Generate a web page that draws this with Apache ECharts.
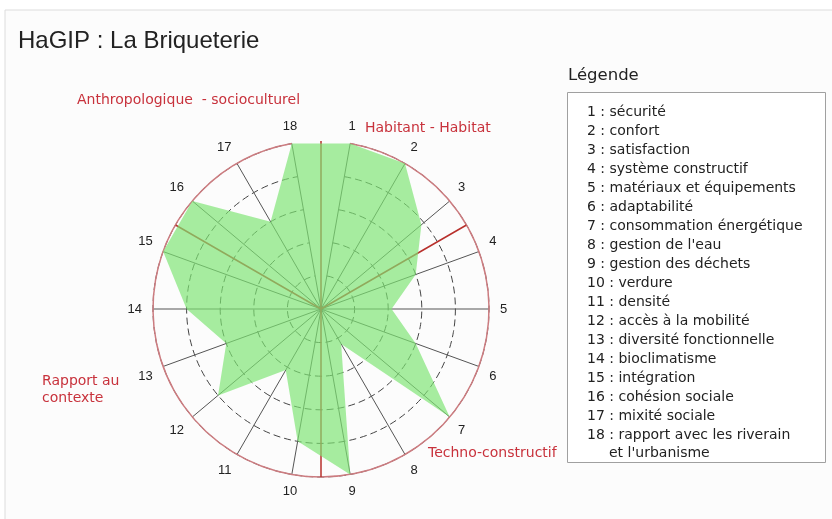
<!DOCTYPE html>
<html>
<head>
<meta charset="utf-8">
<style>html,body{margin:0;padding:0;background:#fff;}#c{width:832px;height:519px;}</style>
<script src="https://cdn.jsdelivr.net/npm/echarts@6/dist/echarts.min.js"></script>
</head>
<body>
<div id="c"></div>
<script>
// Data
const categories = ['1','2','3','4','5','6','7','8','9','10','11','12','13','14','15','16','17','18'];
const scores = [5, 5, 3.9, 3, 2.1, 3, 5, 1.2, 5, 4, 2.1, 4, 3, 4, 5, 5, 3, 5];
const separatorAngles = [0, 60, 180, 300]; // degrees clockwise from top
const legendItems = [
  '1 : sécurité', '2 : confort', '3 : satisfaction', '4 : système constructif',
  '5 : matériaux et équipements', '6 : adaptabilité', '7 : consommation énergétique',
  '8 : gestion de l\'eau', '9 : gestion des déchets', '10 : verdure', '11 : densité',
  '12 : accès à la mobilité', '13 : diversité fonctionnelle', '14 : bioclimatisme',
  '15 : intégration', '16 : cohésion sociale', '17 : mixité sociale',
  '18 : rapport avec les riverain'
];
const legendContinuation = 'et l\'urbanisme';
const sectionLabels = [
  {text: 'Anthropologique  - socioculturel', x: 77, y: 100},
  {text: 'Habitant - Habitat', x: 365, y: 128},
  {text: 'Rapport au\ncontexte', x: 42, y: 390},
  {text: 'Techno-constructif', x: 428, y: 453}
];

const FONT = '"Liberation Sans", Arial, sans-serif';
const WFONT = '"DejaVu Sans", Verdana, sans-serif';
const CENTER = [321, 309];
const RADIUS = 168;

const chart = echarts.init(document.getElementById('c'), null, {renderer: 'canvas'});

// out-and-back path for separators: rim -> center -> rim -> center ...
const sepPath = [];
separatorAngles.forEach((a) => { sepPath.push([5, a]); sepPath.push([0, a]); });

const graphics = [
  {type: 'rect', z: -10, shape: {x: 5, y: 10, width: 840, height: 520},
   style: {fill: '#fcfcfc', stroke: '#dcdcdc', lineWidth: 1}, silent: true},
  {type: 'text', x: 18, y: 41, style: {text: 'HaGIP : La Briqueterie', font: '24px ' + FONT, fill: '#222', textVerticalAlign: 'middle'}},
  {type: 'text', x: 568, y: 76, style: {text: 'Légende', font: '16.5px ' + WFONT, fill: '#222', textVerticalAlign: 'middle'}},
  {type: 'rect', shape: {x: 567.5, y: 92.5, width: 258, height: 370},
   style: {fill: '#fff', stroke: '#a0a0a0', lineWidth: 1}}
];
legendItems.forEach((t, i) => {
  graphics.push({type: 'text', x: 587, y: 112 + i * 19,
    style: {text: t, font: '14px ' + WFONT, fill: '#222', textVerticalAlign: 'middle'}});
});
graphics.push({type: 'text', x: 609, y: 112 + legendItems.length * 19 - 1,
  style: {text: legendContinuation, font: '14px ' + WFONT, fill: '#222', textVerticalAlign: 'middle'}});
sectionLabels.forEach(s => {
  graphics.push({type: 'text', x: s.x, y: s.y,
    style: {text: s.text, font: '14px ' + WFONT, fill: '#c8323c', textVerticalAlign: 'middle', lineHeight: 17}});
});

chart.setOption({
  animation: false,
  backgroundColor: '#fff',
  graphic: graphics,
  polar: [
    {center: CENTER, radius: RADIUS},
    {center: CENTER, radius: RADIUS}
  ],
  angleAxis: [
    {
      polarIndex: 0, type: 'category', data: categories, startAngle: 80, clockwise: true,
      boundaryGap: false,
      axisLine: {show: true, lineStyle: {color: '#cc7c80', width: 1.5}},
      axisTick: {show: false},
      axisLabel: {show: true, interval: 0, margin: 11, color: '#222', fontSize: 13, fontFamily: FONT},
      splitLine: {show: true, lineStyle: {color: '#555', width: 1}},
      z: 0
    },
    {
      polarIndex: 1, type: 'value', min: 0, max: 360, interval: 60, startAngle: 90, clockwise: true,
      show: false
    }
  ],
  radiusAxis: [
    {
      polarIndex: 0, type: 'value', min: 0, max: 5, interval: 1,
      axisLine: {show: false}, axisTick: {show: false}, axisLabel: {show: false},
      splitLine: {show: true, lineStyle: {color: '#444', width: 1, type: [7, 4]}}
    },
    {polarIndex: 1, type: 'value', min: 0, max: 5, show: false}
  ],
  series: [
    {
      type: 'line', coordinateSystem: 'polar', polarIndex: 1, data: sepPath,
      symbol: 'none', silent: true, z: 1,
      lineStyle: {color: '#b8302c', width: 1.5}
    },
    {
      type: 'custom', coordinateSystem: 'polar', polarIndex: 0, z: 2, silent: true,
      data: scores.map((v, i) => [v, i]),
      renderItem: function (params, api) {
        if (params.dataIndex !== 0) return null;
        const pts = scores.map((v, i) => api.coord([v, i]));
        return {
          type: 'polygon',
          shape: {points: pts},
          style: {fill: 'rgba(125,228,115,0.68)', stroke: null}
        };
      }
    }
  ]
});
</script>
</body>
</html>
